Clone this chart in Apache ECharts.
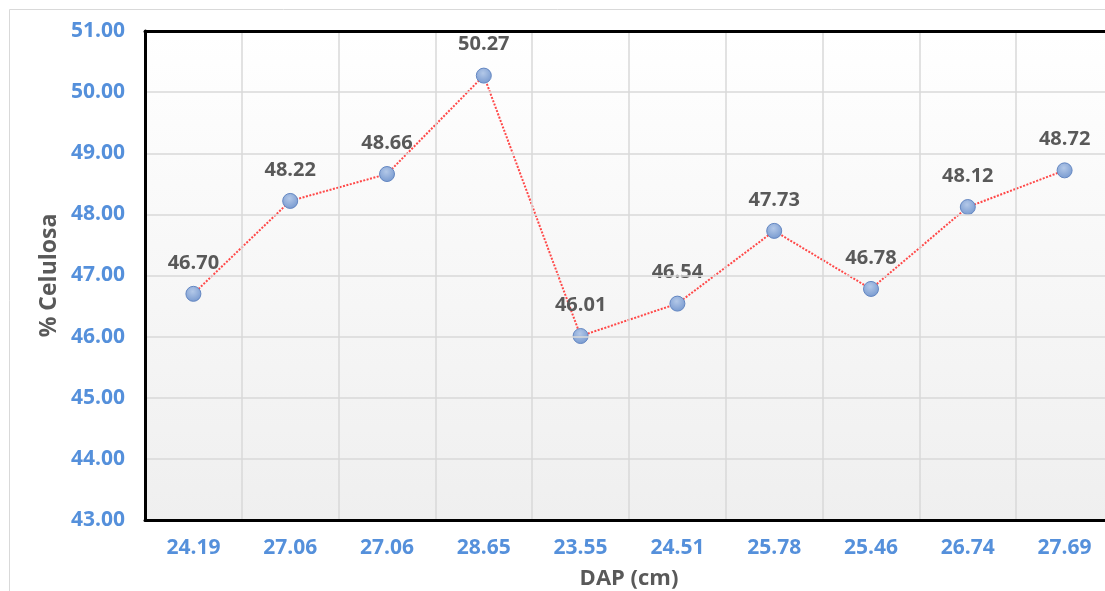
<!DOCTYPE html>
<html>
<head>
<meta charset="utf-8">
<script src="https://cdn.jsdelivr.net/npm/echarts@6/dist/echarts.min.js"></script>
<style>
  html, body { margin: 0; padding: 0; background: #ffffff; }
  #chart { width: 1105px; height: 591px; }
</style>
</head>
<body>
<div id="chart"></div>
<script>
// DAP (cm) per sample and the measured cellulose content (%)
const dapLabels = ['24.19', '27.06', '27.06', '28.65', '23.55', '24.51', '25.78', '25.46', '26.74', '27.69'];
const celulosa = [46.70, 48.22, 48.66, 50.27, 46.01, 46.54, 47.73, 46.78, 48.12, 48.72];
const yMin = 43;
const yMax = 51;
const yStep = 1;

const chart = echarts.init(document.getElementById('chart'), null, { renderer: 'canvas' });

const blueText = '#5590db';
const grayText = '#595959';
const fontFamily = 'Open Sans';
const frameLine = { show: true, lineStyle: { color: '#000000', width: 3 } };

chart.setOption({
  animation: false,
  backgroundColor: '#ffffff',
  graphic: [
    {
      type: 'rect',
      z: -10,
      silent: true,
      shape: { x: 9.5, y: 9.5, width: 1120, height: 600 },
      style: { fill: 'none', stroke: '#d9d9d9', lineWidth: 1 }
    }
  ],
  grid: {
    left: 145,
    top: 31,
    width: 968,
    height: 489,
    outerBoundsMode: 'none',
    containLabel: false,
    show: true,
    borderWidth: 0,
    backgroundColor: new echarts.graphic.LinearGradient(0, 0, 0, 1, [
      { offset: 0, color: '#ffffff' },
      { offset: 1, color: '#efefef' }
    ])
  },
  xAxis: [
    {
      type: 'category',
      data: dapLabels,
      boundaryGap: true,
      position: 'bottom',
      name: 'DAP (cm)',
      nameLocation: 'middle',
      nameGap: 48,
      nameMoveOverlap: false,
      nameTextStyle: { color: grayText, fontSize: 22, fontWeight: 'bold', fontFamily },
      axisLine: frameLine,
      axisTick: { show: false },
      axisLabel: { color: blueText, fontSize: 21, fontWeight: 'bold', fontFamily, margin: 18 },
      splitLine: { show: true, lineStyle: { color: '#d9d9d9', width: 1.5 } },
      z: 5
    },
    {
      // top edge of the plot frame
      type: 'category',
      data: dapLabels,
      position: 'top',
      axisLine: frameLine,
      axisTick: { show: false },
      axisLabel: { show: false },
      splitLine: { show: false },
      z: 5
    }
  ],
  yAxis: {
    type: 'value',
    min: yMin,
    max: yMax,
    interval: yStep,
    name: '% Celulosa',
    nameLocation: 'middle',
    nameGap: 84,
    nameMoveOverlap: false,
    nameTextStyle: { color: grayText, fontSize: 23, fontWeight: 'bold', fontFamily },
    axisLine: frameLine,
    axisTick: { show: false },
    axisLabel: {
      color: blueText, fontSize: 21, fontWeight: 'bold', fontFamily, margin: 20,
      formatter: v => v.toFixed(2)
    },
    splitLine: { show: true, lineStyle: { color: '#d9d9d9', width: 1.5 } },
    z: 5
  },
  series: [
    {
      type: 'line',
      xAxisIndex: 0,
      data: celulosa,
      symbol: 'circle',
      symbolSize: 15,
      itemStyle: {
        color: new echarts.graphic.RadialGradient(0.45, 0.35, 0.75, [
          { offset: 0, color: '#b3c8e8' },
          { offset: 1, color: '#6f93cc' }
        ]),
        borderColor: '#6487c2',
        borderWidth: 1
      },
      lineStyle: { color: '#ff4848', width: 2, type: [2, 1.5] },
      label: {
        show: true,
        position: 'top',
        distance: 13,
        color: grayText,
        fontSize: 20,
        fontWeight: 'bold',
        fontFamily,
        formatter: p => p.value.toFixed(2)
      }
    }
  ]
});
</script>
</body>
</html>
